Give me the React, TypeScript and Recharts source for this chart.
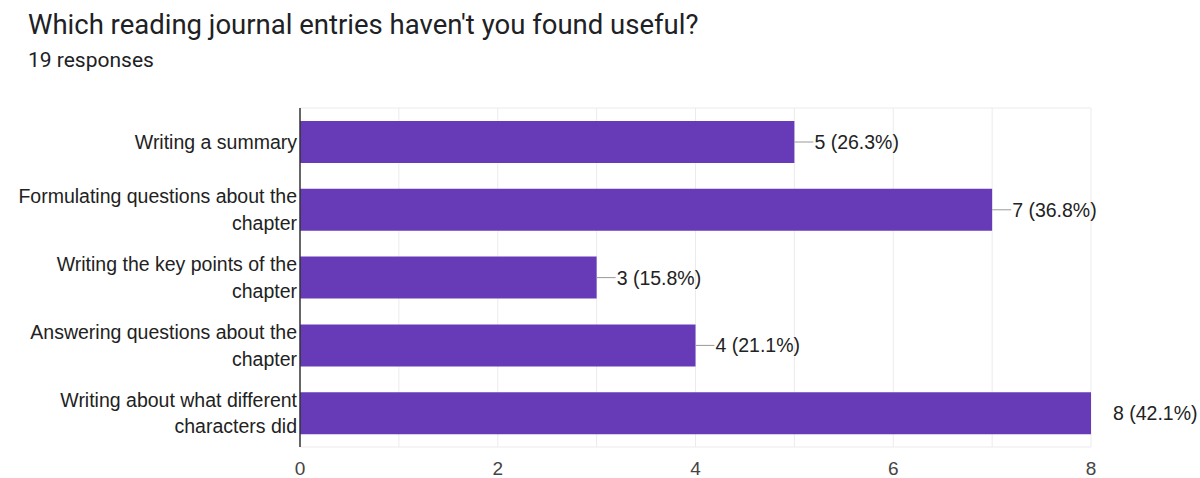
import React from 'react';
import { BarChart, Bar, XAxis, YAxis, CartesianGrid, LabelList } from 'recharts';

const categories: string[] = [
  'Writing a summary',
  'Formulating questions about the chapter',
  'Writing the key points of the chapter',
  'Answering questions about the chapter',
  'Writing about what different characters did',
];

const counts: number[] = [5, 7, 3, 4, 8];

const totalResponses = 19;
const xTicks: number[] = [0, 2, 4, 6, 8];
const gridValues: number[] = [1, 2, 3, 4, 5, 6, 7, 8];

const data = categories.map((name, i) => ({ name, count: counts[i] }));

const labelFont = '"Liberation Sans", Arial, sans-serif';
const labelSize = 19.5;
const maxLabelWidth = 285;

let measureCtx: CanvasRenderingContext2D | null = null;
const measure = (s: string) => {
  if (!measureCtx) {
    measureCtx = document.createElement('canvas').getContext('2d');
  }
  if (!measureCtx) return s.length * labelSize * 0.5;
  measureCtx.font = `${labelSize}px "Liberation Sans", Arial, sans-serif`;
  return measureCtx.measureText(s).width;
};

// greedy word wrap
const wrap = (s: string): string[] => {
  const words = s.split(' ');
  const lines: string[] = [];
  let cur = '';
  words.forEach((w) => {
    const next = cur ? `${cur} ${w}` : w;
    if (cur && measure(next) > maxLabelWidth) {
      lines.push(cur);
      cur = w;
    } else {
      cur = next;
    }
  });
  if (cur) lines.push(cur);
  return lines;
};

// wrapped category label, right aligned against the axis
const CategoryTick = (props: any) => {
  const { x, y, payload } = props;
  const lines = wrap(payload.value);
  const lh = 26.5;
  const startY = y - ((lines.length - 1) * lh) / 2;
  return (
    <text
      x={x + 5}
      y={startY}
      textAnchor="end"
      dominantBaseline="central"
      fontSize={labelSize}
      fontFamily={labelFont}
      fill="#222"
    >
      {lines.map((l, i) => (
        <tspan key={i} x={x + 5} y={startY + i * lh} dominantBaseline="central">
          {l}
        </tspan>
      ))}
    </text>
  );
};

// value label with a short leader line, like Google Forms
const ValueLabel = (props: any) => {
  const { x, y, width, height, value } = props;
  const endX = x + width;
  const midY = y + height / 2;
  const pct = ((value / totalResponses) * 100).toFixed(1);
  const atEdge = value === xTicks[xTicks.length - 1];
  const textX = atEdge ? endX + 22 : endX + 20;
  return (
    <g>
      {!atEdge && <line x1={endX} y1={midY} x2={endX + 19} y2={midY} stroke="#999" strokeWidth={1} />}
      <text
        x={textX}
        y={midY}
        dominantBaseline="central"
        fontSize={labelSize}
        fontFamily={labelFont}
        fill="#222"
      >
        {`${value} (${pct}%)`}
      </text>
    </g>
  );
};

const App: React.FC = () => {
  return (
    <div style={{ position: 'absolute', left: 0, top: 0, width: 1200, height: 478, background: '#fff' }}>
      <div
        style={{
          position: 'absolute',
          left: 28,
          top: 8,
          fontFamily: 'Roboto, "Noto Sans", sans-serif',
          fontSize: 27.5,
          color: '#202124',
          whiteSpace: 'nowrap',
        }}
      >
        Which reading journal entries haven't you found useful?
      </div>
      <div
        style={{
          position: 'absolute',
          left: 28,
          top: 48,
          fontFamily: 'Roboto, "Noto Sans", sans-serif',
          fontSize: 21,
          color: '#202124',
        }}
      >
        19 responses
      </div>
      <div style={{ position: 'absolute', left: 0, top: 0 }}>
        <BarChart
          width={1200}
          height={478}
          data={data}
          layout="vertical"
          margin={{ top: 108, right: 109, bottom: 0, left: 0 }}
          barCategoryGap={13}
        >
          <CartesianGrid
            stroke="#ebebeb"
            verticalValues={gridValues}
            horizontalCoordinatesGenerator={({ offset }: any) => [offset.top, offset.top + offset.height]}
          />
          <XAxis
            type="number"
            domain={[0, 8]}
            ticks={xTicks}
            axisLine={false}
            tickLine={false}
            height={31}
            tick={{ fontSize: 19, fill: '#444', fontFamily: labelFont }}
            tickMargin={9}
          />
          <YAxis
            type="category"
            dataKey="name"
            width={300}
            axisLine={{ stroke: '#333', strokeWidth: 1.5 }}
            tickLine={false}
            tick={<CategoryTick />}
            interval={0}
          />
          <Bar dataKey="count" fill="#673AB7" barSize={42} isAnimationActive={false}>
            <LabelList dataKey="count" content={<ValueLabel />} />
          </Bar>
        </BarChart>
      </div>
    </div>
  );
};

export default App;
